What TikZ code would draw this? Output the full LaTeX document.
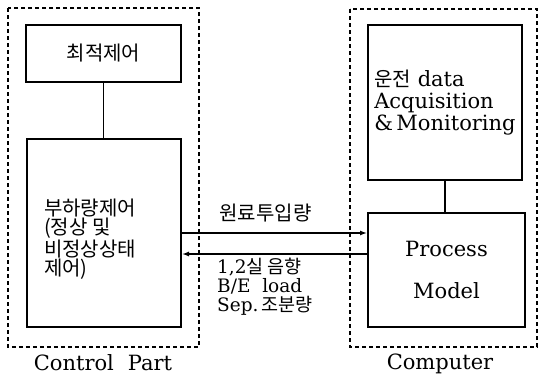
\documentclass[tikz,border=0pt]{standalone}
\usepackage{fontspec}
\setmainfont{DejaVu Serif}
\newfontfamily\kr{Noto Sans CJK KR}
\usetikzlibrary{positioning,calc,arrows.meta}

\begin{document}
\begin{tikzpicture}[x=1pt, y=-1pt,
  blk/.style={draw, line width=2pt, inner sep=0pt, align=left},
  grp/.style={draw, dash pattern=on 4pt off 3pt, line width=1.2pt},
  lnk/.style={line width=1.3pt},
  txt/.style={font=\fontsize{20}{22}\selectfont}]
  \useasboundingbox (0,0) rectangle (539,380);

  % Groups
  \draw[grp] (8,8) rectangle (199,347);
  \draw[grp] (350,9) rectangle (537,347);
  \node[txt, font=\fontsize{21}{22}\selectfont] (ctrl_title) at (103,363) {Control\hspace{0.35em} Part};
  \node[txt, font=\fontsize{21}{22}\selectfont] (comp_title) at (440,364) {Computer};

  % Control part
  \node[blk, minimum width=155pt, minimum height=57pt, font=\fontsize{20}{20}\selectfont\kr] (opt) at (103.5,53.5) {최적제어};
  \node[blk, minimum width=154pt, minimum height=188pt] (load) at (104,233) {};
  \node[txt, anchor=west, align=left, inner sep=0pt, font=\fontsize{20}{19.5}\selectfont\kr] (load_txt)
    at ($(load.west)+(18,6)$) {부하량제어\\(정상 및\\비정상상태\\제어)};
  \draw[lnk] (opt) -- (opt |- load.north);

  % Computer
  \node[blk, minimum width=154pt, minimum height=155pt, font=\fontsize{21}{22}\selectfont] (acq) at (445,102.5)
    {{\kr\fontsize{20}{22}\selectfont 운전} data\\Acquisition\\\&\,Monitoring};
  \node[blk, minimum width=157pt, minimum height=114pt, align=center, font=\fontsize{21}{22}\selectfont] (pm) at (446.5,270)
    {Process\\[20pt]Model};
  \draw[lnk] (acq.south) -- (acq.south |- pm.north);

  % Signals
  \draw[lnk, -{Latex[length=7pt, width=5pt]}] (load.east |- 0,233) -- (pm.west |- 0,233);
  \coordinate (fb) at (pm.west |- 0,254);
  \draw[lnk, -{Latex[length=7pt, width=5pt]}] (fb) -- (load.east |- fb);
  \node[txt, anchor=south west, font=\fontsize{20}{20}\selectfont\kr] (feed_lbl) at (216,226) {원료투입량};
  \node[txt, anchor=north west, align=left, inner sep=0pt, font=\fontsize{18.5}{19}\selectfont] (fb_lbl) at (217,258)
    {1,2{\kr\fontsize{18.5}{19}\selectfont 실 음향}\\B/E\ \ load\\Sep.\,{\kr\fontsize{18.5}{19}\selectfont 조분량}};
\end{tikzpicture}
\end{document}
